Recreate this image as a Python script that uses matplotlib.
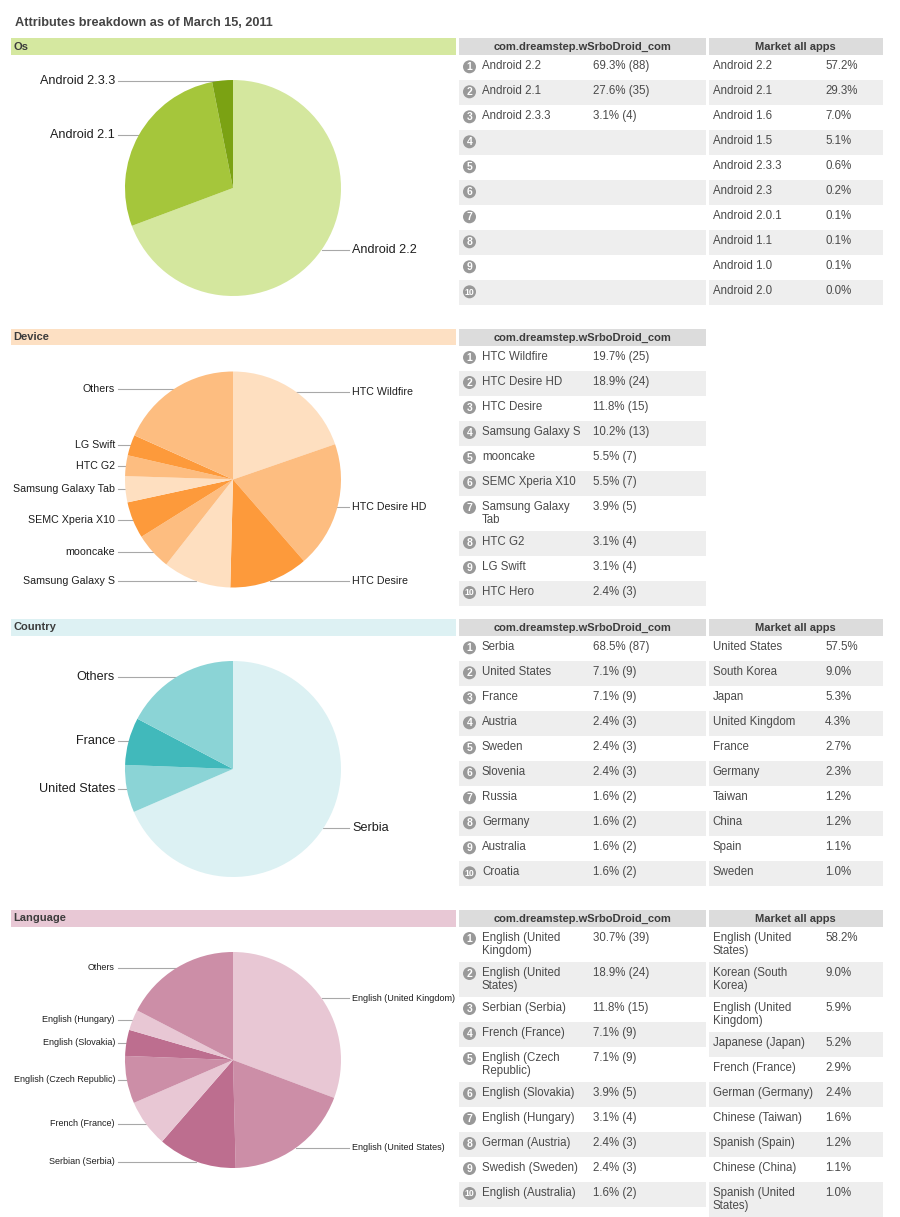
import matplotlib
matplotlib.use('Agg')
import matplotlib.pyplot as plt
from matplotlib.patches import Rectangle, Circle
import numpy as np

plt.rcParams['font.family'] = ['Liberation Sans', 'DejaVu Sans']

W, H = 900, 1217

# ---- data ----
app_title = "com.dreamstep.wSrboDroid_com"
market_title = "Market all apps"

os_names = ["Android 2.2", "Android 2.1", "Android 2.3.3"]
os_share = [69.3, 27.6, 3.1]
os_count = [88, 35, 4]
os_market_names = ["Android 2.2", "Android 2.1", "Android 1.6", "Android 1.5", "Android 2.3.3",
                   "Android 2.3", "Android 2.0.1", "Android 1.1", "Android 1.0", "Android 2.0"]
os_market_share = [57.2, 29.3, 7.0, 5.1, 0.6, 0.2, 0.1, 0.1, 0.1, 0.0]

device_names = ["HTC Wildfire", "HTC Desire HD", "HTC Desire", "Samsung Galaxy S", "mooncake",
                "SEMC Xperia X10", "Samsung Galaxy Tab", "HTC G2", "LG Swift", "HTC Hero"]
device_share = [19.7, 18.9, 11.8, 10.2, 5.5, 5.5, 3.9, 3.1, 3.1, 2.4]
device_count = [25, 24, 15, 13, 7, 7, 5, 4, 4, 3]
device_pie_n = 9
device_others = 18.3

country_names = ["Serbia", "United States", "France", "Austria", "Sweden",
                 "Slovenia", "Russia", "Germany", "Australia", "Croatia"]
country_share = [68.5, 7.1, 7.1, 2.4, 2.4, 2.4, 1.6, 1.6, 1.6, 1.6]
country_count = [87, 9, 9, 3, 3, 3, 2, 2, 2, 2]
country_market_names = ["United States", "South Korea", "Japan", "United Kingdom", "France",
                        "Germany", "Taiwan", "China", "Spain", "Sweden"]
country_market_share = [57.5, 9.0, 5.3, 4.3, 2.7, 2.3, 1.2, 1.2, 1.1, 1.0]
country_pie_n = 3
country_others = 17.3

lang_names = ["English (United Kingdom)", "English (United States)", "Serbian (Serbia)",
              "French (France)", "English (Czech Republic)", "English (Slovakia)",
              "English (Hungary)", "German (Austria)", "Swedish (Sweden)", "English (Australia)"]
lang_share = [30.7, 18.9, 11.8, 7.1, 7.1, 3.9, 3.1, 2.4, 2.4, 1.6]
lang_count = [39, 24, 15, 9, 9, 5, 4, 3, 3, 2]
lang_market_names = ["English (United States)", "Korean (South Korea)", "English (United Kingdom)",
                     "Japanese (Japan)", "French (France)", "German (Germany)", "Chinese (Taiwan)",
                     "Spanish (Spain)", "Chinese (China)", "Spanish (United States)"]
lang_market_share = [58.2, 9.0, 5.9, 5.2, 2.9, 2.4, 1.6, 1.2, 1.1, 1.0]
lang_pie_n = 7
lang_others = 17.4

# ---- figure ----
fig = plt.figure(figsize=(W / 100, H / 100), dpi=100)
bg = fig.add_axes([0, 0, 1, 1])
bg.set_xlim(0, W)
bg.set_ylim(H, 0)
bg.axis('off')
renderer = fig.canvas.get_renderer()

TXT = '#4a4a4a'


def text_width(s, size):
    t = bg.text(0, 0, s, fontsize=size)
    w = t.get_window_extent(renderer).width
    t.remove()
    return w


def wrap(s, size, maxw=106):
    lines, cur = [], ''
    for word in s.split(' '):
        test = (cur + ' ' + word).strip()
        if cur and text_width(test, size) > maxw:
            lines.append(cur)
            cur = word
        else:
            cur = test
    lines.append(cur)
    return lines


def draw_table(x0, x1, top, title, names, values, ranked, name_x, val_x):
    bg.add_patch(Rectangle((x0, top), x1 - x0, 16.5, color='#dcdcdc', lw=0))
    bg.text((x0 + x1) / 2, top + 8.5, title, ha='center', va='center',
            fontsize=8, weight='bold', color='#3c3c3c')
    y = top + 16.5
    for i in range(10):
        name = names[i] if i < len(names) else ''
        lines = wrap(name, 8.3) if name else ['']
        h = 25 + 10 * (len(lines) - 1)
        if i % 2 == 1:
            bg.add_patch(Rectangle((x0, y), x1 - x0, h, color='#eeeeee', lw=0))
        if ranked:
            bg.add_patch(Circle((x0 + 10.5, y + 12), 6.5, color='#999999', lw=0))
            bg.text(x0 + 10.5, y + 12.3, str(i + 1), ha='center', va='center',
                    fontsize=7.5 if i < 9 else 6.2, weight='bold', color='white')
        for j, ln in enumerate(lines):
            bg.text(name_x, y + 11.5 + 13 * j, ln, ha='left', va='center',
                    fontsize=8.3, color=TXT)
        if i < len(values):
            bg.text(val_x, y + 11.5, values[i], ha='left', va='center',
                    fontsize=8.3, color=TXT)
        y += h


def draw_pie(cy, values, labels, colors, label_size, cx=233, r=108):
    pad = 4
    ax = fig.add_axes([(cx - r - pad) / W, 1 - (cy + r + pad) / H,
                       (2 * r + 2 * pad) / W, (2 * r + 2 * pad) / H])
    wedges, _ = ax.pie(values, colors=colors, startangle=90, counterclock=False,
                       radius=1, wedgeprops=dict(linewidth=0))
    lim = (r + pad) / r
    ax.set_xlim(-lim, lim)
    ax.set_ylim(-lim, lim)
    ax.axis('off')
    for w, lab in zip(wedges, labels):
        t = np.deg2rad((w.theta1 + w.theta2) / 2)
        ex = cx + r * np.cos(t)
        ey = cy - r * np.sin(t)
        if ex < cx:
            bg.plot([118, ex], [ey, ey], color='#a8a8a8', lw=0.8)
            bg.text(115, ey, lab, ha='right', va='center', fontsize=label_size, color='#1e1e1e')
        else:
            bg.plot([ex, 349], [ey, ey], color='#a8a8a8', lw=0.8)
            bg.text(352, ey, lab, ha='left', va='center', fontsize=label_size, color='#1e1e1e')


def section_header(y0, y1, name, color):
    bg.add_patch(Rectangle((11, y0), 445, y1 - y0, color=color, lw=0))
    bg.text(13, (y0 + y1) / 2, name, ha='left', va='center', fontsize=8,
            weight='bold', color='#3c3c3c')


def fmt_app(share, count):
    return [f"{s:.1f}% ({c})" for s, c in zip(share, count)]


def fmt_market(share):
    return [f"{s:.1f}%" for s in share]


bg.text(15, 23, "Attributes breakdown as of March 15, 2011", ha='left', va='center',
        fontsize=9.2, weight='bold', color='#444444')

# Os
green = ['#d4e79e', '#a5c63b', '#7ba213']
section_header(38, 55, "Os", '#d5e8a0')
draw_pie(188, os_share, os_names, green, 9.1)
draw_table(459, 705.5, 38.3, app_title, os_names, fmt_app(os_share, os_count), True, 482, 593)
draw_table(708.5, 883, 38.3, market_title, os_market_names, fmt_market(os_market_share),
           False, 712.7, 825)

# Device
orange = ['#fedfc0', '#fdbd80', '#fd9a3b']
dev_vals = device_share[:device_pie_n] + [device_others]
dev_labs = device_names[:device_pie_n] + ["Others"]
dev_cols = [orange[i % 3] for i in range(device_pie_n)] + [orange[1]]
section_header(329, 345, "Device", '#fde0c3')
draw_pie(479.5, dev_vals, dev_labs, dev_cols, 7.7)
draw_table(459, 705.5, 329, app_title, device_names, fmt_app(device_share, device_count),
           True, 482, 593)

# Country
teal = ['#dcf1f3', '#8bd4d6', '#41b9bb']
cty_vals = country_share[:country_pie_n] + [country_others]
cty_labs = country_names[:country_pie_n] + ["Others"]
cty_cols = [teal[i % 3] for i in range(country_pie_n)] + [teal[1]]
section_header(619.3, 635.7, "Country", '#ddf1f3')
draw_pie(769, cty_vals, cty_labs, cty_cols, 9.1)
draw_table(459, 705.5, 619.3, app_title, country_names, fmt_app(country_share, country_count),
           True, 482, 593)
draw_table(708.5, 883, 619.3, market_title, country_market_names,
           fmt_market(country_market_share), False, 712.7, 825)

# Language
pink = ['#e8c7d4', '#cc8ea7', '#bd6e8f']
lng_vals = lang_share[:lang_pie_n] + [lang_others]
lng_labs = lang_names[:lang_pie_n] + ["Others"]
lng_cols = [pink[i % 3] for i in range(lang_pie_n)] + [pink[1]]
section_header(910, 926.5, "Language", '#e8c8d5')
draw_pie(1060, lng_vals, lng_labs, lng_cols, 6.5)
draw_table(459, 705.5, 910, app_title, lang_names, fmt_app(lang_share, lang_count),
           True, 482, 593)
draw_table(708.5, 883, 910, market_title, lang_market_names, fmt_market(lang_market_share),
           False, 712.7, 825)

fig.savefig('out.png', dpi=100)
